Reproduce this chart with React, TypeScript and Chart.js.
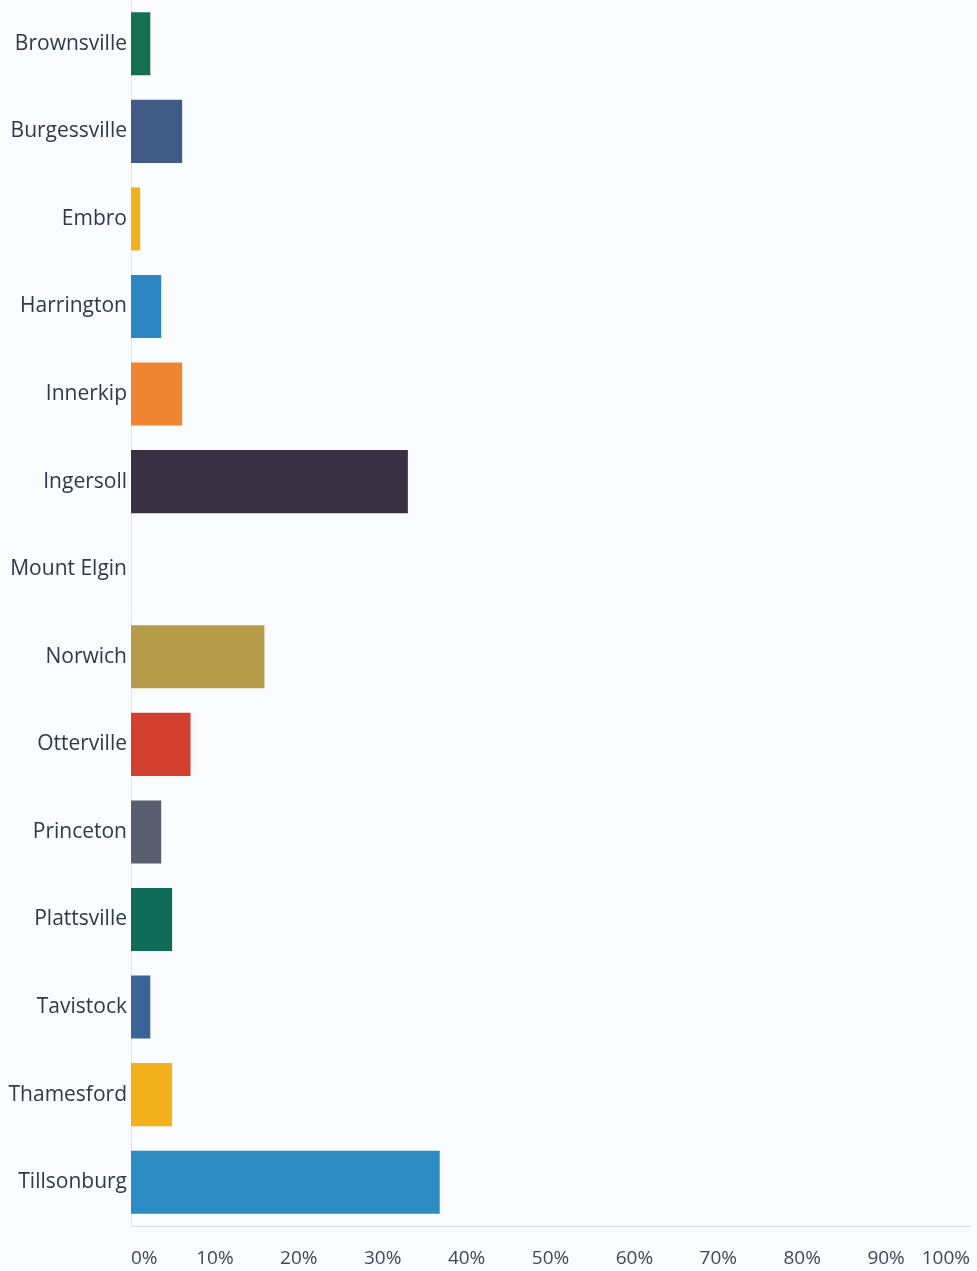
import React, { useEffect, useRef } from "react";
import { Chart, registerables } from "chart.js";

Chart.register(...registerables);

const categories = [
  "Brownsville",
  "Burgessville",
  "Embro",
  "Harrington",
  "Innerkip",
  "Ingersoll",
  "Mount Elgin",
  "Norwich",
  "Otterville",
  "Princeton",
  "Plattsville",
  "Tavistock",
  "Thamesford",
  "Tillsonburg",
];

const values = [2.3, 6.1, 1.1, 3.6, 6.1, 33.0, 0, 15.9, 7.1, 3.6, 4.9, 2.3, 4.9, 36.8];

const barColors = [
  "#15704f",
  "#3f5b86",
  "#f0b21f",
  "#2c86c2",
  "#ef8431",
  "#3a2f43",
  "#8c8c8c",
  "#b69b4b",
  "#d3402f",
  "#5a5f6f",
  "#0f6c57",
  "#3b6497",
  "#f1b11c",
  "#2e8cc4",
];

const xTicks = [0, 10, 20, 30, 40, 50, 60, 70, 80, 90, 100];

export default function App() {
  const ref = useRef<HTMLCanvasElement | null>(null);

  useEffect(() => {
    if (!ref.current) return;
    const chart = new Chart(ref.current, {
      type: "bar",
      data: {
        labels: categories,
        datasets: [
          {
            data: values,
            backgroundColor: barColors,
            borderWidth: 0,
            categoryPercentage: 0.72,
            barPercentage: 1,
          },
        ],
      },
      options: {
        indexAxis: "y",
        animation: false,
        responsive: false,
        maintainAspectRatio: false,
        layout: { padding: { top: -1, right: 7, bottom: 0, left: 0 } },
        plugins: {
          legend: { display: false },
          tooltip: { enabled: false },
        },
        scales: {
          x: {
            min: 0,
            max: 100,
            afterBuildTicks: (axis: any) => {
              axis.ticks = xTicks.map((v) => ({ value: v }));
            },
            afterFit: (axis: any) => {
              axis.height = 45;
              axis.paddingLeft = 0;
              axis.paddingRight = 0;
            },
            ticks: {
              align: "inner",
              padding: 21,
              color: "#3d4a57",
              font: { family: "Open Sans", size: 19 },
              callback: (v: any) => `${v}%`,
              maxRotation: 0,
              autoSkip: false,
            },
            grid: { display: false, drawTicks: false },
            border: { display: true, color: "#d8dadc", width: 1 },
          },
          y: {
            afterFit: (axis: any) => {
              axis.width = 131;
              axis.paddingTop = 0;
              axis.paddingBottom = 0;
            },
            ticks: {
              padding: 4,
              color: "#2e3a48",
              font: { family: "Open Sans", size: 21 },
              autoSkip: false,
            },
            grid: { display: false, drawTicks: false },
            border: { display: true, color: "#e2e4e6", width: 1 },
          },
        },
      },
    });
    return () => chart.destroy();
  }, []);

  return (
    <div
      style={{
        position: "absolute",
        left: 0,
        top: 0,
        width: 977,
        height: 1271,
        background: "#fafbfc",
      }}
    >
      <canvas ref={ref} width={977} height={1271} style={{ display: "block" }} />
    </div>
  );
}
